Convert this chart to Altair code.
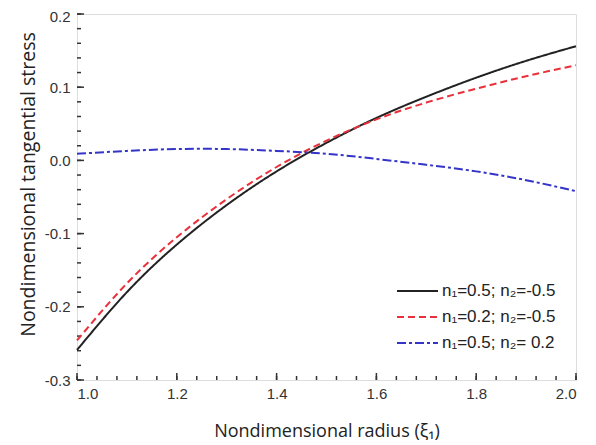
import altair as alt
import pandas as pd

# radius values (xi_1)
radius = [1.0, 1.1, 1.2, 1.3, 1.4, 1.5, 1.6, 1.7, 1.8, 1.9, 2.0]
# series values
s_black = [-0.259, -0.180, -0.115, -0.061, -0.015, 0.024, 0.058, 0.087, 0.113, 0.136, 0.156]
s_red = [-0.246, -0.168, -0.105, -0.053, -0.009, 0.027, 0.056, 0.079, 0.098, 0.115, 0.130]
s_blue = [0.009, 0.013, 0.0155, 0.0155, 0.013, 0.009, 0.002, -0.006, -0.015, -0.027, -0.042]

labels = ["n₁=0.5; n₂=-0.5", "n₁=0.2; n₂=-0.5", "n₁=0.5; n₂= 0.2"]
colors = ["#222222", "#e8313a", "#3434c8"]
dashes = [[1, 0], [7, 4], [9, 3, 3, 3]]

x_major = [1.0, 1.2, 1.4, 1.6, 1.8, 2.0]
x_minor = [round(1.0 + 0.04 * i, 2) for i in range(26)]
y_major = [-0.3, -0.2, -0.1, 0.0, 0.1, 0.2]
y_minor = [round(-0.3 + 0.02 * i, 2) for i in range(26)]

rows = []
for name, vals in zip(labels, [s_black, s_red, s_blue]):
    for r, v in zip(radius, vals):
        rows.append({"radius": r, "stress": v, "series": name})
df = pd.DataFrame(rows)

W, H = 499, 366
FONT = "Liberation Sans"
TFONT = "Open Sans"
LBL = "datum.value < 0 ? '-' + format(abs(datum.value), '.1f') : format(datum.value, '.1f')"

xs = alt.Scale(domain=[1.0, 2.0], nice=False)
ys = alt.Scale(domain=[-0.3, 0.2], nice=False)

lines = alt.Chart(df).mark_line(strokeWidth=2, interpolate="natural").encode(
    x=alt.X("radius:Q", scale=xs,
            axis=alt.Axis(title="Nondimensional radius (ξ₁)", values=x_major, labelExpr=LBL,
                          ticks=False, domain=False, grid=False, labelPadding=6,
                          labelFontSize=15, labelFont=FONT, labelColor="#333",
                          titleFont=TFONT, titleFontSize=18, titleFontWeight="normal",
                          titleColor="#222", titlePadding=21)),
    y=alt.Y("stress:Q", scale=ys,
            axis=alt.Axis(title="Nondimensional tangential stress", values=y_major, labelExpr=LBL,
                          ticks=False, domain=False, grid=False, labelPadding=7,
                          labelOffset={"condition": {"test": "datum.value > 0.15", "value": 2}, "value": 0},
                          labelFontSize=15, labelFont=FONT, labelColor="#333",
                          titleFont=TFONT, titleFontSize=19.5, titleFontWeight="normal",
                          titleColor="#222", titlePadding=6, titleY=170)),
    color=alt.Color("series:N", scale=alt.Scale(domain=labels, range=colors), legend=None),
    strokeDash=alt.StrokeDash("series:N", scale=alt.Scale(domain=labels, range=dashes), legend=None),
)

tick_col = "#333333"
xmaj = alt.Chart(pd.DataFrame({"v": x_major})).mark_rule(color=tick_col, strokeWidth=1.5).encode(
    x=alt.X("v:Q", scale=xs), y=alt.value(H), y2=alt.value(H - 7))
xmin = alt.Chart(pd.DataFrame({"v": x_minor})).mark_rule(color=tick_col, strokeWidth=1.5).encode(
    x=alt.X("v:Q", scale=xs), y=alt.value(H), y2=alt.value(H - 4))
ymaj = alt.Chart(pd.DataFrame({"v": y_major})).mark_rule(color=tick_col, strokeWidth=1.5).encode(
    y=alt.Y("v:Q", scale=ys), x=alt.value(0), x2=alt.value(7))
ymin = alt.Chart(pd.DataFrame({"v": y_minor})).mark_rule(color=tick_col, strokeWidth=1.5).encode(
    y=alt.Y("v:Q", scale=ys), x=alt.value(0), x2=alt.value(4))

# legend (drawn manually, inside lower right)
legend_layers = []
leg_rows = [277, 303, 329]
for name, col, dsh, ly in zip(labels, colors, dashes, leg_rows):
    one = alt.Chart(pd.DataFrame({"series": [name]}))
    legend_layers.append(one.mark_rule(color=col, strokeWidth=2, strokeDash=dsh).encode(
        x=alt.value(320), x2=alt.value(361), y=alt.value(ly)))
    legend_layers.append(one.mark_text(align="left", baseline="middle", font=FONT,
                                       fontSize=17, color="#222").encode(
        x=alt.value(365), y=alt.value(ly), text="series:N"))

chart = alt.layer(xmin, xmaj, ymin, ymaj, lines, *legend_layers).properties(
    width=W, height=H,
    autosize=alt.AutoSizeParams(type="none"),
    padding={"left": 69, "top": 6, "right": 10, "bottom": 60},
).configure_view(stroke="#444444", strokeWidth=2).configure(background="white")

chart.save("out.html", embed_options={"renderer": "svg", "actions": False})
